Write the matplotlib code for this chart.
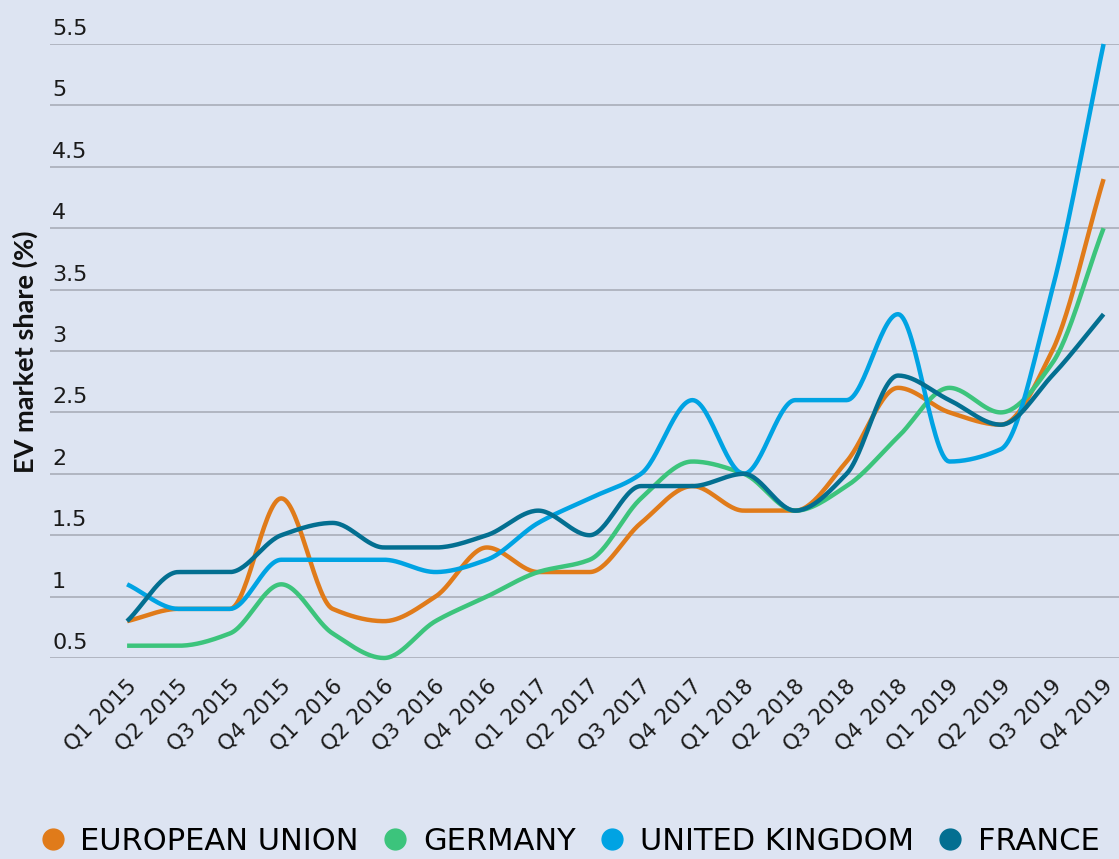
#!/usr/bin/env python3
# -*- coding: utf-8 -*-
"""
EV market share by quarter, EU vs DE / UK / FR
"""

import numpy as np
import matplotlib
matplotlib.use("Agg")
import matplotlib.pyplot as plt
import matplotlib.transforms as mtransforms
from matplotlib.lines import Line2D

#%% data

quarters = ["Q1 2015", "Q2 2015", "Q3 2015", "Q4 2015",
            "Q1 2016", "Q2 2016", "Q3 2016", "Q4 2016",
            "Q1 2017", "Q2 2017", "Q3 2017", "Q4 2017",
            "Q1 2018", "Q2 2018", "Q3 2018", "Q4 2018",
            "Q1 2019", "Q2 2019", "Q3 2019", "Q4 2019"]

eu      = [0.8, 0.9, 0.9, 1.8, 0.9, 0.8, 1.0, 1.4, 1.2, 1.2,
           1.6, 1.9, 1.7, 1.7, 2.1, 2.7, 2.5, 2.4, 3.0, 4.4]
germany = [0.6, 0.6, 0.7, 1.1, 0.7, 0.5, 0.8, 1.0, 1.2, 1.3,
           1.8, 2.1, 2.0, 1.7, 1.9, 2.3, 2.7, 2.5, 2.9, 4.0]
uk      = [1.1, 0.9, 0.9, 1.3, 1.3, 1.3, 1.2, 1.3, 1.6, 1.8,
           2.0, 2.6, 2.0, 2.6, 2.6, 3.3, 2.1, 2.2, 3.5, 5.5]
france  = [0.8, 1.2, 1.2, 1.5, 1.6, 1.4, 1.4, 1.5, 1.7, 1.5,
           1.9, 1.9, 2.0, 1.7, 2.0, 2.8, 2.6, 2.4, 2.8, 3.3]

series_names  = ["EUROPEAN UNION", "GERMANY", "UNITED KINGDOM", "FRANCE"]
series_values = [eu, germany, uk, france]
series_colors = ["#e07b1a", "#3cc47c", "#00a3e3", "#036f91"]

yticks = [0.5, 1, 1.5, 2, 2.5, 3, 3.5, 4, 4.5, 5, 5.5]

BG = "#dde4f2"

#%% monotone cubic (same look as the smoothed lines in the source chart)

def monotone_curve(y, n=30):
    y = np.asarray(y, dtype=float)
    x = np.arange(len(y), dtype=float)
    d = np.diff(y)
    m = np.zeros_like(y)
    m[0], m[-1] = d[0], d[-1]
    for i in range(1, len(y) - 1):
        if d[i - 1] * d[i] > 0:
            m[i] = 2 * d[i - 1] * d[i] / (d[i - 1] + d[i])
    xs, ys = [], []
    for i in range(len(y) - 1):
        t = np.linspace(0, 1, n, endpoint=(i == len(y) - 2))
        h00 = 2 * t**3 - 3 * t**2 + 1
        h10 = t**3 - 2 * t**2 + t
        h01 = -2 * t**3 + 3 * t**2
        h11 = t**3 - t**2
        xs.append(x[i] + t)
        ys.append(h00 * y[i] + h10 * m[i] + h01 * y[i + 1] + h11 * m[i + 1])
    return np.concatenate(xs), np.concatenate(ys)

#%% plot

fig = plt.figure(figsize=(11.19, 8.59), dpi=100, facecolor=BG)
ax = fig.add_axes([50 / 1119, 201 / 859, 1 - 50 / 1119, 614 / 859])
ax.set_facecolor(BG)

for vals, col in zip(series_values, series_colors):
    xs, ys = monotone_curve(vals)
    ax.plot(xs, ys, color=col, lw=3.2, solid_capstyle="butt", clip_on=False, zorder=3)

ax.set_xlim(-1.5, 19.3)
ax.set_ylim(0.5, 5.5)

# grid + y labels sitting on top of the lines
ax.set_yticks(yticks)
ax.set_yticklabels([])
ax.tick_params(axis="y", length=0)
ax.grid(axis="y", color="#adb2bd", lw=1.3)
ax.set_axisbelow(True)
for s in ax.spines.values():
    s.set_visible(False)

off = mtransforms.ScaledTranslation(2 / 100, 5 / 100, fig.dpi_scale_trans)
for v in yticks:
    ax.text(0, v, f"{v:g}", transform=ax.get_yaxis_transform() + off,
            ha="left", va="bottom", fontsize=16, color="#1a1a1a")

ax.set_xticks(range(len(quarters)))
ax.set_xticklabels(quarters, rotation=45, ha="right", rotation_mode="anchor",
                   fontsize=15.5, color="#1a1a1a")
ax.tick_params(axis="x", length=0, pad=13)
shift = mtransforms.ScaledTranslation(-1 / 100, 0, fig.dpi_scale_trans)
for lab in ax.get_xticklabels():
    lab.set_transform(lab.get_transform() + shift)

fig.text(25 / 1119, 1 - 352 / 859, "EV market share (%)", rotation=90,
         ha="center", va="center", fontsize=19.5, fontweight="bold",
         family=["Lato", "DejaVu Sans"], color="#111111")

handles = [Line2D([], [], ls="none", marker="o", markersize=15,
                  markerfacecolor=c, markeredgecolor=c) for c in series_colors]
fig.legend(handles, series_names, loc="lower center", ncol=4,
           bbox_to_anchor=(0.508, -0.028), frameon=False,
           prop={"family": ["Liberation Sans Narrow", "DejaVu Sans"], "size": 22},
           handletextpad=0.4, columnspacing=0.7, handlelength=1.0)

fig.savefig("out.png", dpi=100, facecolor=BG)
